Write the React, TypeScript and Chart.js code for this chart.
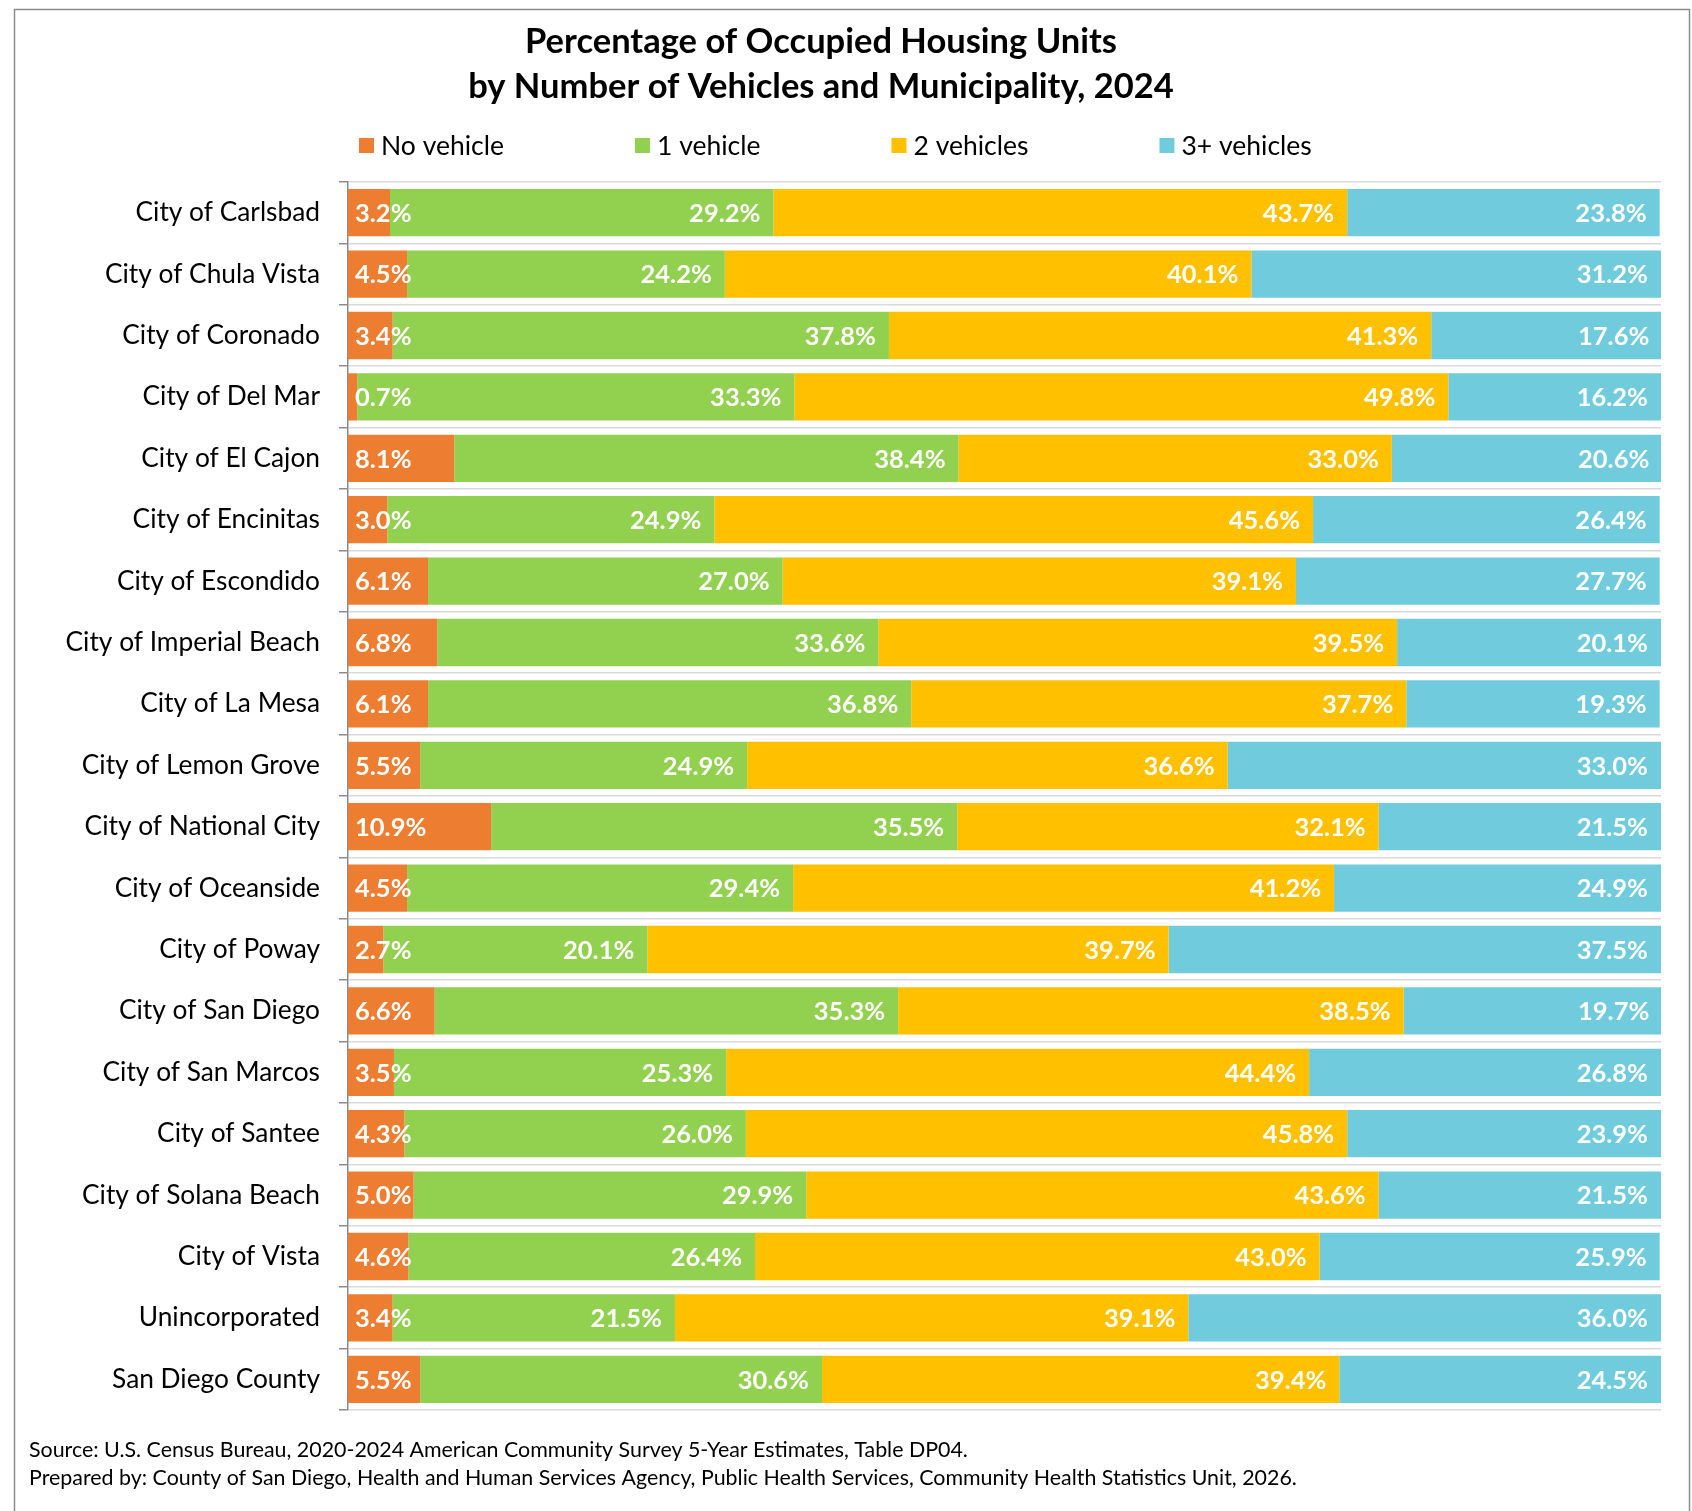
import React, { useEffect, useRef } from "react";
import { Chart, registerables } from "chart.js";
Chart.register(...registerables);

const categories = [
  "City of Carlsbad",
  "City of Chula Vista",
  "City of Coronado",
  "City of Del Mar",
  "City of El Cajon",
  "City of Encinitas",
  "City of Escondido",
  "City of Imperial Beach",
  "City of La Mesa",
  "City of Lemon Grove",
  "City of National City",
  "City of Oceanside",
  "City of Poway",
  "City of San Diego",
  "City of San Marcos",
  "City of Santee",
  "City of Solana Beach",
  "City of Vista",
  "Unincorporated",
  "San Diego County",
];

const noVehicle = [3.2, 4.5, 3.4, 0.7, 8.1, 3.0, 6.1, 6.8, 6.1, 5.5, 10.9, 4.5, 2.7, 6.6, 3.5, 4.3, 5.0, 4.6, 3.4, 5.5];
const oneVehicle = [29.2, 24.2, 37.8, 33.3, 38.4, 24.9, 27.0, 33.6, 36.8, 24.9, 35.5, 29.4, 20.1, 35.3, 25.3, 26.0, 29.9, 26.4, 21.5, 30.6];
const twoVehicles = [43.7, 40.1, 41.3, 49.8, 33.0, 45.6, 39.1, 39.5, 37.7, 36.6, 32.1, 41.2, 39.7, 38.5, 44.4, 45.8, 43.6, 43.0, 39.1, 39.4];
const threePlusVehicles = [23.8, 31.2, 17.6, 16.2, 20.6, 26.4, 27.7, 20.1, 19.3, 33.0, 21.5, 24.9, 37.5, 19.7, 26.8, 23.9, 21.5, 25.9, 36.0, 24.5];

const seriesNames = ["No vehicle", "1 vehicle", "2 vehicles", "3+ vehicles"];
const seriesColors = ["#ED7D31", "#92D050", "#FFC000", "#70CCDD"];

const titleLines = [
  "Percentage of Occupied Housing Units",
  "by Number of Vehicles and Municipality, 2024",
];
const footnotes = [
  "Source: U.S. Census Bureau, 2020-2024 American Community Survey 5-Year Estimates, Table DP04.",
  "Prepared by: County of San Diego, Health and Human Services Agency, Public Health Services, Community Health Statistics Unit, 2026.",
];

const FONT = "Lato, 'Open Sans', sans-serif";
const W = 1692;
const H = 1511;

const decorPlugin = {
  id: "decor",
  beforeDraw(chart: any) {
    const ctx = chart.ctx;
    ctx.save();
    ctx.fillStyle = "#FFFFFF";
    ctx.fillRect(0, 0, W, H);
    ctx.strokeStyle = "#8C8C8C";
    ctx.lineWidth = 1.5;
    ctx.strokeRect(14.5, 9.5, 1675, H + 10);
    ctx.restore();
  },
  afterDraw(chart: any) {
    const ctx = chart.ctx;
    ctx.save();
    // title
    ctx.fillStyle = "#000000";
    ctx.textAlign = "center";
    ctx.textBaseline = "middle";
    ctx.font = `bold 34.5px ${FONT}`;
    ctx.fillText(titleLines[0], 821, 42);
    ctx.fillText(titleLines[1], 821, 87);
    // legend
    ctx.font = `26.5px ${FONT}`;
    ctx.textAlign = "left";
    let x = 359;
    const ly = 146;
    chart.data.datasets.forEach((ds: any) => {
      ctx.fillStyle = ds.backgroundColor;
      ctx.fillRect(x, ly - 8, 15, 15);
      ctx.fillStyle = "#000000";
      ctx.fillText(ds.label, x + 22, ly);
      x += 22 + ctx.measureText(ds.label).width + 131;
    });
    // footnotes
    ctx.font = `21.4px ${FONT}`;
    ctx.fillText(footnotes[0], 29, 1450);
    ctx.fillText(footnotes[1], 29, 1478);
    ctx.restore();
  },
  afterDatasetsDraw(chart: any) {
    const ctx = chart.ctx;
    ctx.save();
    ctx.font = `bold 25.5px ${FONT}`;
    ctx.fillStyle = "#FFFFFF";
    ctx.textBaseline = "middle";
    chart.data.datasets.forEach((ds: any, di: number) => {
      const meta = chart.getDatasetMeta(di);
      meta.data.forEach((bar: any, i: number) => {
        const v = ds.data[i];
        const txt = v.toFixed(1) + "%";
        const left = Math.min(bar.x, bar.base);
        const right = Math.max(bar.x, bar.base);
        if (di === 0) {
          ctx.textAlign = "left";
          ctx.fillText(txt, left + 7, bar.y + 1);
        } else {
          ctx.textAlign = "right";
          ctx.fillText(txt, right - 13, bar.y + 1);
        }
      });
    });
    ctx.restore();
  },
};

export default function App() {
  const ref = useRef<HTMLCanvasElement | null>(null);
  useEffect(() => {
    if (!ref.current) return;
    const series = [noVehicle, oneVehicle, twoVehicles, threePlusVehicles];
    const chart = new Chart(ref.current, {
      type: "bar",
      data: {
        labels: categories,
        datasets: series.map((d, i) => ({
          label: seriesNames[i],
          data: d,
          backgroundColor: seriesColors[i],
          borderWidth: 0,
          categoryPercentage: 1,
          barPercentage: 0.77,
        })),
      },
      options: {
        indexAxis: "y",
        responsive: false,
        animation: false,
        devicePixelRatio: 1,
        layout: { padding: { top: 182, bottom: H - 1410, left: 0, right: 31 } },
        plugins: {
          legend: { display: false },
          title: { display: false },
          tooltip: { enabled: false },
        },
        scales: {
          x: { stacked: true, min: 0, max: 100, display: false },
          y: {
            stacked: true,
            afterFit: (s: any) => {
              s.width = 348;
            },
            grid: {
              offset: true,
              color: "#D9D9D9",
              lineWidth: 1.5,
              tickColor: "#8C8C8C",
              tickLength: 9,
              drawTicks: true,
            },
            border: { color: "#8C8C8C", width: 1.5 },
            ticks: {
              autoSkip: false,
              padding: 19,
              color: "#000000",
              font: { family: FONT, size: 26.3 },
            },
          },
        },
      },
      plugins: [decorPlugin],
    });
    return () => chart.destroy();
  }, []);
  return (
    <div style={{ position: "absolute", left: 0, top: 0, width: W, height: H, background: "#fff" }}>
      <canvas ref={ref} width={W} height={H} style={{ width: W, height: H, display: "block" }} />
    </div>
  );
}
